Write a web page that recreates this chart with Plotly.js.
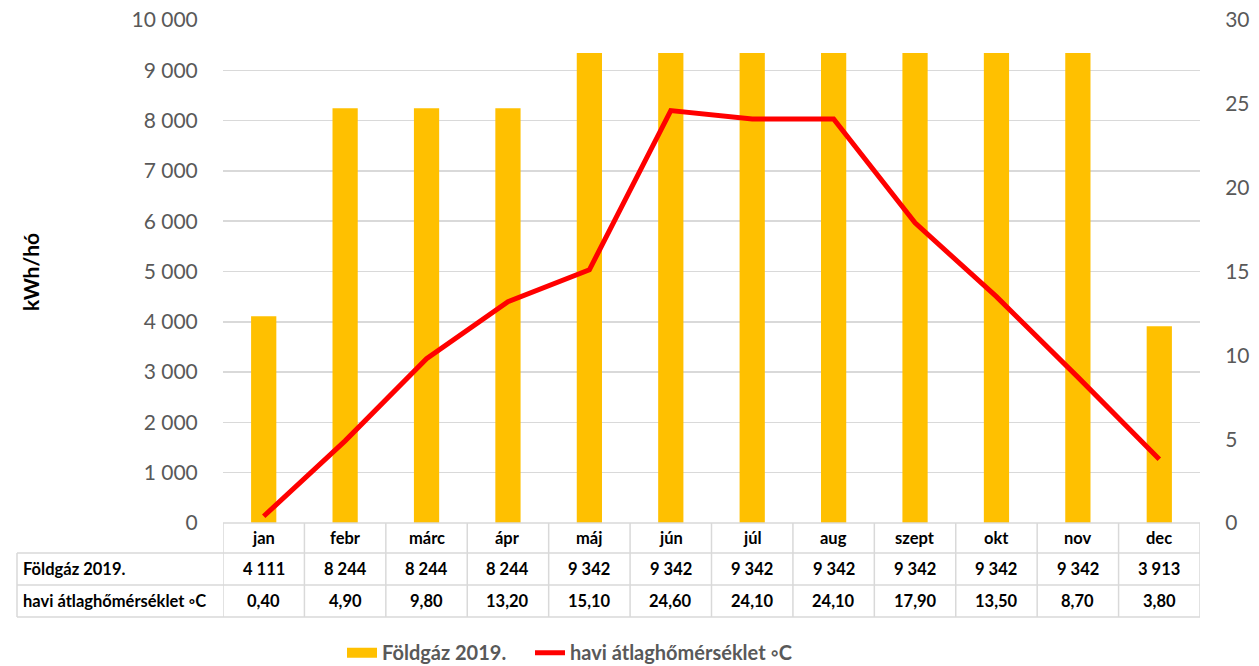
<!DOCTYPE html>
<html>
<head>
<meta charset="utf-8">
<script src="https://cdn.plot.ly/plotly-3.0.1.min.js"></script>
<style>html,body{margin:0;padding:0;background:#fff;}#chart{width:1259px;height:666px;}</style>
</head>
<body>
<div id="chart"></div>
<script>
const months = ["jan","febr","márc","ápr","máj","jún","júl","aug","szept","okt","nov","dec"];
const gas2019 = [4111, 8244, 8244, 8244, 9342, 9342, 9342, 9342, 9342, 9342, 9342, 3913];
const avgTemp = [0.40, 4.90, 9.80, 13.20, 15.10, 24.60, 24.10, 24.10, 17.90, 13.50, 8.70, 3.80];
const gasName = "Földgáz 2019.";
const tempName = "havi átlaghőmérséklet ◦C";
const yTitle = "kWh/hó";

const FONT = "Lato, 'Open Sans', sans-serif";
const L = 223, R = 1200, T = 20, B = 523;
const W = R - L, H = B - T;
const py = p => (B - p) / H;
const px = p => (p - L) / W;

const fmtGas = v => String(v).replace(/\B(?=(\d{3})+(?!\d))/g, " ");
const fmtTemp = v => v.toFixed(2).replace(".", ",");

const grid = "#d9d9d9";
const shapes = [];
shapes.push({type:"line", xref:"paper", yref:"paper", x0:0, x1:1, y0:py(523), y1:py(523), line:{color:grid, width:1.5}});
[553, 585, 617].forEach(p => shapes.push({type:"line", xref:"paper", yref:"paper", x0:px(17), x1:1, y0:py(p), y1:py(p), line:{color:grid, width:1.5}}));
shapes.push({type:"line", xref:"paper", yref:"paper", x0:px(17), x1:px(17), y0:py(553), y1:py(617), line:{color:grid, width:1.5}});
for (let i = 0; i <= months.length; i++) {
  shapes.push({type:"line", xref:"x", yref:"paper", x0:i - 0.5, x1:i - 0.5, y0:py(523), y1:py(617), line:{color:grid, width:1.5}});
}

const annotations = [];
const cellFont = {family:FONT, size:16.5, color:"#000", weight:"bold"};
months.forEach((m, i) => {
  annotations.push({xref:"x", yref:"paper", x:i, y:py(538), text:"<b>"+m+"</b>", showarrow:false, font:cellFont, xanchor:"center", yanchor:"middle"});
  annotations.push({xref:"x", yref:"paper", x:i, y:py(569), text:"<b>"+fmtGas(gas2019[i])+"</b>", showarrow:false, font:cellFont, xanchor:"center", yanchor:"middle"});
  annotations.push({xref:"x", yref:"paper", x:i, y:py(601), text:"<b>"+fmtTemp(avgTemp[i])+"</b>", showarrow:false, font:cellFont, xanchor:"center", yanchor:"middle"});
});
annotations.push({xref:"paper", yref:"paper", x:px(21), y:py(569), text:"<b>"+gasName+"</b>", showarrow:false, font:cellFont, xanchor:"left", yanchor:"middle"});
annotations.push({xref:"paper", yref:"paper", x:px(21), y:py(601), text:"<b>"+tempName+"</b>", showarrow:false, font:cellFont, xanchor:"left", yanchor:"middle"});
annotations.push({xref:"paper", yref:"paper", x:px(30), y:py(272), text:"<b>"+yTitle+"</b>", textangle:-90, showarrow:false, font:{family:FONT, size:21, color:"#000"}, xanchor:"center", yanchor:"middle"});

const data = [
  {type:"bar", name:gasName, x:months, y:gas2019, marker:{color:"#FFC000"}, yaxis:"y", showlegend:false},
  {type:"scatter", mode:"lines", name:gasName, x:[null], y:[null], line:{color:"#FFC000", width:15}, yaxis:"y", showlegend:true, legend:"legend"},
  {type:"scatter", mode:"lines", name:tempName, x:months, y:avgTemp, line:{color:"#FF0000", width:5}, yaxis:"y2", legend:"legend2"}
];

const legendFont = {family:FONT, size:20, color:"#595959", weight:"bold"};
const layout = {
  width:1259, height:666,
  margin:{l:L, r:1259-R, t:T, b:666-B},
  paper_bgcolor:"#fff", plot_bgcolor:"#fff",
  separators:", ",
  bargap:0.69,
  showlegend:true,
  font:{family:FONT},
  xaxis:{type:"category", categoryarray:months, showticklabels:false, showgrid:false, zeroline:false, showline:false, ticks:"", range:[-0.5, 11.5]},
  yaxis:{range:[0,10000], dtick:1000, tickformat:",d", showgrid:true, gridcolor:grid, gridwidth:1.5, zeroline:false, showline:false,
         ticks:"outside", ticklen:20, tickcolor:"rgba(0,0,0,0)", tickfont:{family:FONT, size:21, color:"#595959"}},
  yaxis2:{overlaying:"y", side:"right", range:[0,30], dtick:5, showgrid:false, zeroline:false, showline:false,
          ticks:"outside", ticklen:20, tickcolor:"rgba(0,0,0,0)", tickfont:{family:FONT, size:21, color:"#595959"}},
  legend:{orientation:"h", xref:"container", yref:"container", x:342/1259, y:0.02, xanchor:"left", yanchor:"middle", font:legendFont},
  legend2:{orientation:"h", xref:"container", yref:"container", x:530/1259, y:0.02, xanchor:"left", yanchor:"middle", font:legendFont},
  shapes:shapes,
  annotations:annotations
};

Plotly.newPlot("chart", data, layout, {displayModeBar:false, staticPlot:true});
</script>
</body>
</html>
